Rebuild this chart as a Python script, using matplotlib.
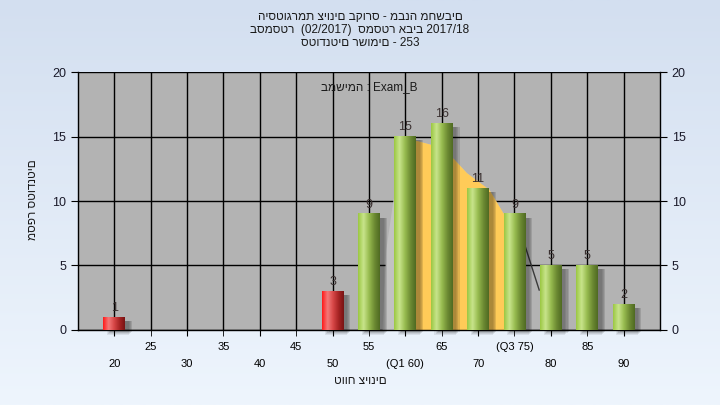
import numpy as np
import matplotlib
matplotlib.use("Agg")
import matplotlib.pyplot as plt
from matplotlib.colors import LinearSegmentedColormap

# ================================
#  data
# ================================
scores = [20, 25, 30, 35, 40, 45, 50, 55, 60, 65, 70, 75, 80, 85, 90]
counts = [1, 0, 0, 0, 0, 0, 3, 9, 15, 16, 11, 9, 5, 5, 2]
tick_labels = ["20", "25", "30", "35", "40", "45", "50", "55",
               "(Q1 60)", "65", "70", "(Q3 75)", "80", "85", "90"]
fail_limit = 55   # bars below this are red

# distribution curve behind the bars
curve_x = [56.8, 57.3, 58.3, 60.0, 61.5, 64.1, 66.6, 68.4, 71.5, 73.4, 75.0]
curve_y = [0.0, 6.2, 10.1, 14.0, 14.7, 14.3, 13.3, 12.2, 10.9, 9.1, 8.3]
# inter-quartile part (Q1..Q3)
iqr_x = [60.0, 61.5, 64.1, 66.6, 68.4, 71.5, 73.4, 75.0]
iqr_y = [14.0, 14.7, 14.3, 13.3, 12.2, 10.9, 9.1, 8.3]
tail_x = [76.3, 78.4]
tail_y = [6.8, 3.1]

title_lines = ["היסטוגרמת ציונים בקורס - מבנה מחשבים",
               "בסמסטר  (02/2017)  סמסטר אביב 2017/18",
               "סטודנטים רשומים - 253"]
task_label = "במשימה : Exam_B"
x_title = "טווח ציונים"
y_title = "מספר סטודנטים"

plt.rcParams["font.family"] = ["Liberation Sans", "DejaVu Sans"]

fig = plt.figure(figsize=(7.2, 4.05), dpi=100)

# background gradient
bg = fig.add_axes([0, 0, 1, 1], zorder=-10)
bg_cmap = LinearSegmentedColormap.from_list("bg", ["#d3dff0", "#eef5fd"])
bg.imshow(np.linspace(0, 1, 256).reshape(-1, 1), aspect="auto", cmap=bg_cmap,
          extent=[0, 1, 0, 1])
bg.axis("off")

ax = fig.add_axes([0.1083, 0.1852, 0.8083, 0.637])
ax.set_facecolor("#b3b3b3")

# curve areas
ax.fill_between(curve_x, curve_y, color="#c2c2c2", zorder=1, lw=0)
ax.fill_between(iqr_x, iqr_y, color="#ffcb58", zorder=1.5, lw=0)
ax.plot(tail_x, tail_y, color="#3a3a3a", lw=1, zorder=1.6)

green = LinearSegmentedColormap.from_list(
    "g", ["#9cc843", "#c8e48c", "#98bc50", "#6e8c34", "#4f6a22"])
red = LinearSegmentedColormap.from_list(
    "r", ["#ff1a1a", "#f47a7a", "#d84848", "#a82424", "#781414"])
grad = np.linspace(0, 1, 64).reshape(1, -1)

bw = 3.0
for s, c in zip(scores, counts):
    if c == 0:
        continue
    # soft shadow
    for k, a in enumerate([0.07, 0.08, 0.10, 0.12]):
        off = 0.2 + 0.15 * k
        ax.add_patch(plt.Rectangle((s - bw / 2 + off + 0.3, -0.35 + 0.06 * k),
                                   bw, c + 0.05 - 0.06 * k, color="black",
                                   alpha=a, lw=0, zorder=2, clip_on=False))
    cmap = red if s < fail_limit else green
    ax.imshow(grad, cmap=cmap, aspect="auto", zorder=3,
              extent=[s - bw / 2, s + bw / 2, 0, c])
    ax.text(s, c + 0.25, str(c), ha="center", va="bottom", fontsize=9,
            color="#3a3030", zorder=4)

ax.set_xlim(15, 95)
ax.set_ylim(0, 20)
ax.set_aspect("auto")

ax.set_xticks(scores[0::2], tick_labels[0::2])
ax.set_xticks(scores[1::2], tick_labels[1::2], minor=True)
ax.tick_params(axis="x", which="major", length=4, pad=17, labelsize=8)
ax.tick_params(axis="x", which="minor", length=4, pad=4.5, labelsize=8)
ax.set_yticks([0, 5, 10, 15, 20])
ax.tick_params(axis="y", left=True, right=True, labelleft=True,
               labelright=True, length=5, labelsize=9, labelcolor="#1a1a2a")

ax.grid(True, which="both", color="black", lw=1, zorder=0.5)
ax.set_axisbelow(True)
ax.spines["top"].set_visible(False)
for side in ["left", "right", "bottom"]:
    ax.spines[side].set_linewidth(1)

ax.text(0.5, 0.94, task_label, transform=ax.transAxes, ha="center",
        va="center", fontsize=8.5, color="#1a1a1a")

for i, line in enumerate(title_lines):
    fig.text(0.5, 1 - (17 + 13 * i) / 405, line, ha="center", va="center",
             fontsize=8.5, color="#1a1a1a")

fig.text(0.5, 1 - 381 / 405, x_title, ha="center", va="center",
         fontsize=8.5, color="#1a1a1a")
fig.text(33 / 720, 1 - 200 / 405, y_title, ha="center", va="center",
         rotation=90, fontsize=8.5, color="#1a1a1a")

fig.savefig("out.png", dpi=100)
